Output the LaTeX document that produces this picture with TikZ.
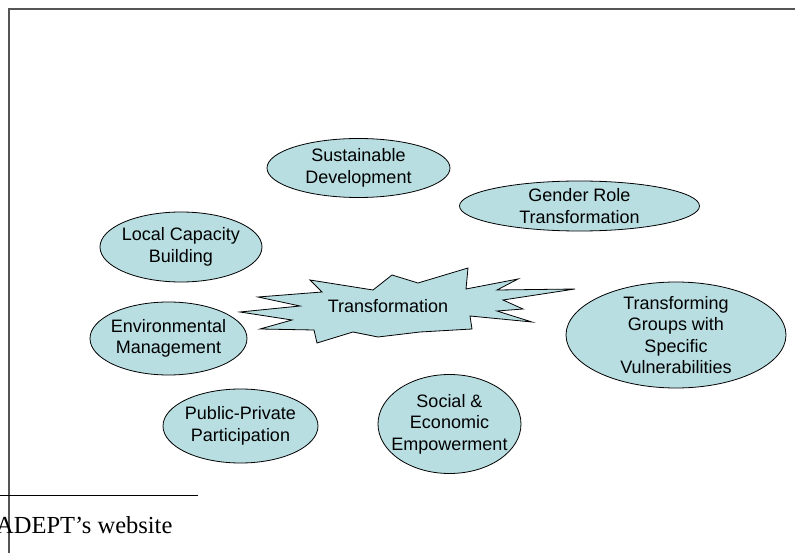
\documentclass[tikz,border=0pt]{standalone}
\usepackage{fontspec}
\setmainfont{Liberation Sans}
\newfontfamily\footfont{Liberation Serif}
\usetikzlibrary{shapes.geometric}
\definecolor{bubblefill}{HTML}{B8DEE2}
\definecolor{framegray}{HTML}{555555}
\tikzset{
  bubble/.style={ellipse, draw=black, line width=0.8pt, fill=bubblefill, inner sep=0pt},
  bubbletext/.style={align=center, inner sep=0pt, font=\fontsize{18}{21.6}\selectfont},
}
\begin{document}
\begin{tikzpicture}[x=1pt,y=-1pt]
\useasboundingbox (0,0) rectangle (795,553);
% frame
\draw[framegray, line width=2.2pt] (9,553) -- (9,9) -- (795,9);
% footnote rule and text
\draw[black, line width=1.5pt] (0,495.5) -- (198,495.5);
\node[anchor=base west, inner sep=0pt, font=\footfont\fontsize{24.5}{29}\selectfont] (src) at (-4,533) {ADEPT’s website};

% ellipses
\node[bubble, minimum width=183pt, minimum height=59pt] (sus) at (358.5,168) {};
\node[bubbletext] at (sus) {Sustainable\\Development};

\node[bubble, minimum width=240pt, minimum height=50pt] (gen) at (579.5,206) {};
\node[bubbletext] at (gen) {Gender Role\\Transformation};

\node[bubble, minimum width=162pt, minimum height=70pt] (loc) at (181,247) {};
\node[bubbletext] at (loc) {Local Capacity\\Building};

\node[bubble, minimum width=157pt, minimum height=73pt] (env) at (168.5,338.5) {};
\node[bubbletext] at (env) {Environmental\\Management};

\node[bubble, minimum width=220pt, minimum height=106pt] (grp) at (676,335) {};
\node[bubbletext] at (grp) {Transforming\\Groups with\\Specific\\Vulnerabilities};

\node[bubble, minimum width=155pt, minimum height=74pt] (pub) at (240.5,426) {};
\node[bubbletext] at (pub) {Public-Private\\Participation};

\node[bubble, minimum width=143pt, minimum height=99pt] (soc) at (449.5,424) {};
\node[bubbletext] at (soc) {Social \&\\Economic\\Empowerment};

% star
\draw[black, line width=0.8pt, fill=bubblefill]
  (240,312) -- (300,306) -- (258,297) -- (322,292) -- (310,280) -- (373,290)
  -- (392,275) -- (418,283) -- (468,268) -- (466,289) -- (518,279) -- (497,290)
  -- (575,289) -- (503,300) -- (523,309) -- (497,311) -- (532,322) -- (470,316)
  -- (472,329) -- (420,332) -- (378,337) -- (353,332) -- (317,343) -- (314,330)
  -- (260,329) -- (292,320) -- cycle;
\node[bubbletext] (tr) at (388,306) {Transformation};
\end{tikzpicture}
\end{document}
